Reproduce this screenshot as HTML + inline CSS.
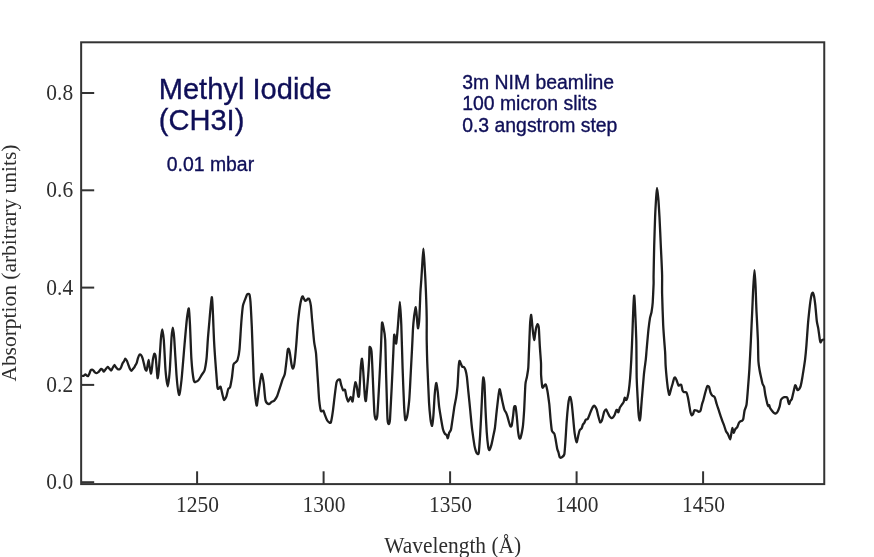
<!DOCTYPE html>
<html><head><meta charset="utf-8"><title>Methyl Iodide absorption</title>
<style>html,body{margin:0;padding:0;background:#fff}svg{display:block}.s{font-family:"Liberation Serif",serif;font-size:21.45px;fill:#2e2e2e}.a{font-family:"Liberation Sans",sans-serif;fill:#0f0f58;stroke:#0f0f58;stroke-width:0.35px}</style></head><body>
<svg width="874" height="557" viewBox="0 0 874 557">
<rect width="874" height="557" fill="#fff"/>
<rect x="81.15" y="42.3" width="743.1" height="441.8" fill="none" stroke="#333333" stroke-width="2"/>
<line x1="81.15" x2="94.2" y1="482.20" y2="482.20" stroke="#333333" stroke-width="2"/>
<line x1="81.15" x2="94.2" y1="384.90" y2="384.90" stroke="#333333" stroke-width="2"/>
<line x1="81.15" x2="94.2" y1="287.60" y2="287.60" stroke="#333333" stroke-width="2"/>
<line x1="81.15" x2="94.2" y1="190.30" y2="190.30" stroke="#333333" stroke-width="2"/>
<line x1="81.15" x2="94.2" y1="93.00" y2="93.00" stroke="#333333" stroke-width="2"/>
<line x1="197.1" x2="197.1" y1="471.3" y2="484.1" stroke="#333333" stroke-width="2"/>
<line x1="323.6" x2="323.6" y1="471.3" y2="484.1" stroke="#333333" stroke-width="2"/>
<line x1="450.1" x2="450.1" y1="471.3" y2="484.1" stroke="#333333" stroke-width="2"/>
<line x1="576.6" x2="576.6" y1="471.3" y2="484.1" stroke="#333333" stroke-width="2"/>
<line x1="703.1" x2="703.1" y1="471.3" y2="484.1" stroke="#333333" stroke-width="2"/>
<text class="s" transform="translate(73.1,489.2) scale(1,1.075)" text-anchor="end">0.0</text>
<text class="s" transform="translate(73.1,391.9) scale(1,1.075)" text-anchor="end">0.2</text>
<text class="s" transform="translate(73.1,294.6) scale(1,1.075)" text-anchor="end">0.4</text>
<text class="s" transform="translate(73.1,197.3) scale(1,1.075)" text-anchor="end">0.6</text>
<text class="s" transform="translate(73.1,100.0) scale(1,1.075)" text-anchor="end">0.8</text>
<text class="s" transform="translate(197.5,512) scale(1,1.075)" text-anchor="middle">1250</text>
<text class="s" transform="translate(324.0,512) scale(1,1.075)" text-anchor="middle">1300</text>
<text class="s" transform="translate(450.5,512) scale(1,1.075)" text-anchor="middle">1350</text>
<text class="s" transform="translate(577.0,512) scale(1,1.075)" text-anchor="middle">1400</text>
<text class="s" transform="translate(703.5,512) scale(1,1.075)" text-anchor="middle">1450</text>
<text class="s" transform="translate(452.7,552.6) scale(1,1.075)" text-anchor="middle">Wavelength (Å)</text>
<text class="s" transform="translate(16.1,263.1) rotate(-90) scale(1,1.02)" text-anchor="middle">Absorption (arbitrary units)</text>
<text class="a" font-size="29.1" x="158.7" y="98.8">Methyl Iodide</text>
<text class="a" font-size="29.1" x="158.7" y="130.3">(CH3I)</text>
<text class="a" font-size="19.4" x="166.8" y="171">0.01 mbar</text>
<text class="a" font-size="19.4" x="462.2" y="88.8">3m NIM beamline</text>
<text class="a" font-size="19.4" x="462.2" y="110.4">100 micron slits</text>
<text class="a" font-size="19.4" x="462.2" y="131.9">0.3 angstrom step</text>
<path d="M82.8,375.9C82.9,375.9 83.8,375.7 84.1,375.5C84.4,375.3 85.1,374.4 85.4,374.4C85.7,374.4 86.7,375.7 87.0,375.9C87.3,376.1 87.9,376.2 88.2,375.9C88.5,375.6 89.2,374.0 89.5,373.4C89.8,372.8 90.4,370.6 90.7,370.2C91.0,369.8 91.7,369.6 92.0,369.6C92.3,369.6 92.9,369.9 93.2,370.2C93.5,370.5 94.5,372.1 94.9,372.4C95.3,372.7 96.0,373.2 96.4,373.2C96.8,373.2 97.9,372.4 98.3,372.1C98.7,371.8 99.6,370.6 99.9,370.2C100.2,369.8 100.9,368.9 101.2,368.8C101.5,368.7 102.1,369.3 102.4,369.6C102.7,369.9 103.5,371.8 103.9,371.7C104.3,371.6 105.4,369.5 105.8,369.0C106.2,368.5 107.3,367.0 107.7,366.9C108.1,366.8 108.8,368.0 109.2,368.4C109.6,368.8 110.8,370.6 111.2,370.5C111.6,370.4 112.4,368.3 112.8,367.7C113.2,367.1 114.1,365.1 114.4,365.0C114.7,364.9 115.5,366.6 115.9,367.1C116.3,367.6 117.4,369.0 117.8,369.2C118.2,369.4 119.3,369.4 119.7,369.2C120.1,369.0 120.9,367.8 121.2,367.1C121.5,366.4 122.3,363.9 122.6,363.3C122.9,362.7 123.5,362.2 123.8,361.7C124.1,361.2 125.0,358.8 125.3,358.7C125.6,358.6 126.5,360.1 126.9,360.8C127.3,361.5 128.2,364.3 128.5,365.2C128.8,366.1 129.7,368.4 130.0,369.0C130.3,369.6 131.1,370.8 131.4,370.8C131.7,370.8 132.6,369.4 132.9,369.0C133.2,368.6 133.9,367.9 134.2,367.5C134.5,367.1 135.1,365.7 135.4,365.2C135.7,364.7 136.4,363.7 136.7,362.9C137.0,362.1 137.6,359.2 137.9,358.3C138.2,357.4 139.2,354.9 139.6,354.5C140.0,354.1 140.8,354.7 141.1,355.1C141.4,355.5 142.3,357.3 142.6,358.3C142.9,359.3 143.7,362.7 144.0,363.9C144.3,365.1 144.9,368.3 145.2,369.0C145.5,369.7 146.2,370.8 146.4,370.5C146.6,370.2 147.2,367.7 147.4,366.5C147.6,365.3 148.4,359.9 148.6,359.9C148.8,359.9 149.3,365.0 149.6,366.5C149.9,368.0 150.6,373.5 150.9,373.6C151.2,373.7 151.8,369.3 152.0,367.7C152.2,366.1 152.7,360.4 153.0,358.9C153.3,357.4 154.0,354.1 154.3,353.8C154.6,353.5 155.2,354.3 155.5,355.8C155.8,357.3 156.4,365.2 156.6,367.7C156.8,370.2 157.4,378.6 157.7,378.3C158.0,378.0 158.9,369.3 159.2,365.0C159.5,360.7 160.5,344.0 160.8,340.0C161.1,336.0 162.0,329.3 162.3,329.3C162.6,329.3 163.4,335.5 163.8,340.0C164.2,344.5 165.1,364.8 165.5,370.0C165.9,375.2 167.3,386.4 167.8,386.4C168.3,386.4 169.4,375.4 169.8,370.0C170.2,364.6 171.2,342.7 171.5,338.0C171.8,333.3 172.5,327.6 172.8,327.6C173.1,327.6 173.8,332.7 174.2,338.0C174.6,343.3 176.0,368.7 176.5,375.0C177.0,381.3 178.5,394.3 179.1,394.9C179.7,395.5 180.9,385.5 181.5,380.0C182.1,374.5 183.9,351.9 184.5,345.0C185.1,338.1 186.5,322.1 187.0,318.0C187.5,313.9 188.5,307.7 188.8,308.5C189.1,309.3 189.7,319.4 190.0,325.0C190.3,330.6 191.0,352.7 191.4,358.9C191.8,365.1 193.3,378.1 193.8,380.6C194.3,383.1 195.5,381.8 196.1,381.7C196.7,381.6 198.3,380.4 198.9,379.6C199.5,378.8 201.1,375.9 201.7,374.9C202.3,373.9 204.1,372.0 204.6,370.2C205.1,368.4 206.1,362.3 206.5,358.9C206.9,355.5 207.5,344.3 207.8,340.0C208.1,335.7 209.1,324.8 209.5,320.0C209.9,315.2 211.4,297.8 211.8,297.2C212.2,296.6 212.8,310.2 213.0,315.0C213.2,319.8 213.7,334.1 214.0,340.0C214.3,345.9 215.5,363.1 215.9,368.3C216.3,373.5 217.1,384.9 217.4,387.2C217.7,389.5 218.3,388.8 218.7,388.7C219.1,388.6 220.2,386.0 220.6,386.7C221.0,387.4 222.1,393.2 222.5,394.7C222.9,396.2 223.6,399.8 224.0,400.0C224.4,400.2 225.8,397.8 226.3,396.6C226.8,395.4 227.8,390.1 228.2,389.1C228.6,388.1 229.7,388.5 230.1,387.2C230.5,385.9 231.5,380.3 231.9,377.8C232.3,375.3 233.1,366.2 233.5,364.5C233.9,362.8 235.2,362.8 235.7,362.3C236.2,361.8 237.2,361.2 237.6,359.8C238.0,358.4 239.1,353.7 239.5,349.4C239.9,345.1 241.0,325.8 241.4,321.0C241.8,316.2 242.5,308.2 242.9,305.9C243.3,303.6 244.3,301.5 244.8,300.2C245.3,298.9 246.6,295.0 247.1,294.4C247.6,293.8 249.0,293.5 249.4,294.4C249.8,295.3 250.2,298.5 250.5,302.1C250.8,305.7 251.4,318.2 251.8,326.6C252.2,335.0 253.3,369.8 253.7,377.8C254.1,385.8 255.1,395.4 255.5,398.5C255.9,401.6 256.5,406.6 256.9,405.3C257.3,404.0 258.8,390.7 259.3,387.2C259.8,383.7 261.1,374.4 261.6,374.0C262.1,373.6 263.3,380.5 263.7,383.4C264.1,386.3 264.9,398.1 265.5,400.4C266.1,402.7 268.1,404.0 268.8,404.2C269.5,404.4 271.0,402.3 271.6,401.9C272.2,401.5 273.8,401.1 274.4,400.4C275.0,399.7 276.7,397.2 277.3,395.7C277.9,394.2 279.5,389.0 280.1,387.2C280.7,385.4 282.0,381.1 282.5,379.6C283.0,378.1 284.3,376.3 284.8,374.0C285.3,371.7 286.4,361.5 286.7,358.9C287.0,356.3 287.5,351.3 287.7,350.2C287.9,349.1 288.4,348.4 288.6,348.7C288.8,349.0 289.6,351.4 289.9,353.1C290.2,354.8 291.2,362.7 291.5,364.4C291.8,366.1 292.5,368.7 292.8,368.7C293.1,368.7 293.9,367.0 294.3,364.4C294.7,361.8 295.8,350.3 296.2,345.5C296.6,340.7 297.6,325.6 298.1,321.0C298.6,316.4 299.8,306.7 300.3,304.0C300.8,301.3 302.0,297.1 302.4,296.5C302.8,295.9 303.4,297.8 303.7,298.3C304.0,298.8 304.9,300.5 305.2,300.7C305.5,300.9 306.3,300.4 306.6,300.2C306.9,300.0 307.6,298.8 307.9,298.7C308.2,298.6 309.1,298.5 309.4,299.3C309.7,300.1 310.6,303.5 310.9,305.9C311.2,308.3 311.8,317.0 312.2,321.0C312.6,325.0 313.7,338.1 314.1,341.7C314.5,345.3 315.6,349.1 316.0,353.1C316.4,357.1 317.3,372.5 317.7,377.8C318.1,383.1 318.8,396.7 319.2,400.4C319.6,404.1 320.4,409.9 320.9,411.0C321.4,412.1 322.9,410.2 323.3,410.6C323.7,411.0 324.4,413.5 324.8,414.6C325.2,415.7 326.6,419.3 327.1,420.2C327.6,421.1 328.6,422.1 329.0,422.3C329.4,422.5 330.5,423.5 330.9,422.3C331.3,421.1 332.4,414.6 332.8,411.7C333.2,408.8 334.2,399.8 334.6,396.6C335.0,393.4 336.1,384.4 336.5,382.5C336.9,380.6 338.0,380.0 338.4,379.7C338.8,379.4 339.6,379.0 339.9,379.6C340.2,380.2 340.9,384.1 341.3,385.3C341.7,386.5 342.7,389.7 343.1,390.2C343.5,390.7 344.6,389.2 345.0,389.9C345.4,390.6 346.0,395.3 346.4,396.6C346.8,397.9 347.7,401.5 348.2,401.5C348.7,401.5 350.2,397.0 350.7,397.0C351.2,397.0 352.2,402.2 352.6,401.5C353.0,400.8 353.6,393.1 353.9,391.0C354.2,388.9 355.1,382.7 355.4,382.3C355.7,381.9 356.6,385.7 356.9,387.2C357.2,388.7 357.9,395.4 358.2,396.2C358.5,397.0 358.9,397.8 359.2,394.7C359.5,391.6 360.4,372.3 360.7,368.3C361.0,364.3 361.7,358.3 362.0,358.7C362.3,359.1 363.0,367.9 363.3,372.1C363.6,376.3 364.6,393.4 364.9,396.6C365.2,399.8 365.7,402.3 366.0,400.6C366.3,398.9 367.3,386.1 367.7,381.5C368.1,376.9 369.0,362.7 369.2,358.9C369.4,355.1 369.3,347.9 369.6,347.1C369.9,346.3 371.1,347.9 371.5,351.3C371.9,354.7 372.5,371.1 372.8,377.8C373.1,384.5 374.0,407.1 374.3,411.7C374.6,416.3 375.5,419.0 375.8,419.4C376.1,419.8 376.9,419.1 377.3,415.5C377.7,411.9 378.6,394.5 379.0,387.2C379.4,379.9 380.6,356.5 380.9,349.4C381.2,342.3 381.7,325.3 382.0,323.0C382.3,320.7 383.3,326.6 383.7,328.5C384.1,330.4 384.9,334.5 385.2,340.0C385.5,345.5 385.9,369.0 386.2,377.8C386.5,386.6 387.2,414.1 387.5,419.3C387.8,424.5 388.3,424.2 388.6,424.2C388.9,424.2 389.7,423.4 390.0,419.3C390.3,415.2 391.3,394.3 391.7,387.2C392.1,380.1 392.9,360.9 393.2,355.1C393.5,349.3 393.9,336.0 394.2,334.7C394.5,333.4 395.8,344.5 396.2,343.4C396.6,342.3 397.6,329.6 398.0,325.0C398.4,320.4 399.5,301.9 399.9,301.9C400.3,301.9 401.0,317.6 401.3,325.0C401.6,332.4 402.3,359.3 402.6,368.3C402.9,377.3 403.8,400.4 404.1,406.1C404.4,411.8 405.0,419.0 405.4,420.0C405.8,421.0 406.9,417.7 407.3,415.5C407.7,413.3 408.8,404.6 409.2,400.4C409.6,396.2 410.2,383.5 410.5,377.8C410.8,372.1 411.7,354.7 412.0,349.4C412.3,344.1 412.7,334.0 412.9,330.3C413.1,326.6 413.8,319.1 414.1,316.5C414.4,313.9 415.5,307.1 415.8,307.2C416.1,307.3 416.7,315.5 416.9,317.8C417.1,320.1 417.6,328.0 417.9,328.3C418.2,328.6 418.9,324.3 419.2,320.3C419.5,316.3 420.2,297.1 420.4,292.6C420.6,288.1 421.1,283.4 421.3,280.0C421.5,276.6 422.2,265.5 422.4,262.0C422.6,258.5 423.2,248.7 423.4,248.7C423.6,248.7 424.2,258.5 424.4,262.0C424.6,265.5 425.1,273.8 425.4,280.0C425.7,286.2 426.6,311.1 426.7,317.8C426.8,324.5 426.6,334.4 426.7,340.0C426.8,345.6 427.2,361.4 427.5,368.3C427.8,375.2 428.7,396.6 429.0,402.3C429.3,408.0 430.2,416.7 430.5,419.3C430.8,421.9 431.8,426.3 432.1,425.9C432.4,425.5 433.1,419.0 433.4,415.5C433.7,412.0 434.4,398.3 434.7,394.7C435.0,391.1 435.9,383.3 436.2,383.0C436.5,382.7 437.5,389.4 437.8,392.1C438.1,394.8 438.8,404.3 439.2,407.2C439.6,410.1 440.6,416.1 441.0,418.5C441.4,420.9 442.5,427.2 442.9,428.9C443.3,430.6 444.4,432.9 444.8,433.6C445.2,434.3 446.4,434.6 446.7,435.1C447.0,435.6 447.5,438.6 447.8,438.3C448.1,438.0 448.9,433.6 449.2,432.7C449.5,431.8 450.5,431.3 450.9,429.9C451.3,428.5 452.0,422.9 452.4,420.4C452.8,417.9 453.9,409.7 454.3,407.2C454.7,404.7 455.7,400.1 456.1,397.8C456.5,395.5 457.2,389.8 457.5,386.4C457.8,383.0 458.4,370.4 458.6,367.6C458.8,364.8 459.2,361.3 459.5,360.9C459.8,360.5 460.6,363.2 460.9,363.8C461.2,364.4 461.8,366.2 462.2,366.6C462.6,367.0 463.7,366.8 464.1,367.2C464.5,367.6 465.3,369.3 465.6,370.4C465.9,371.5 466.6,374.6 466.9,377.0C467.2,379.4 468.0,388.3 468.4,392.1C468.8,395.9 469.9,406.8 470.3,411.0C470.7,415.2 471.7,426.0 472.2,429.9C472.7,433.8 474.1,443.5 474.5,445.9C474.9,448.3 475.7,450.7 476.0,451.6C476.3,452.5 477.2,453.9 477.5,454.0C477.8,454.1 478.5,454.6 478.8,452.5C479.1,450.4 479.8,439.9 480.1,435.5C480.4,431.1 481.0,418.1 481.3,412.9C481.6,407.7 482.2,392.2 482.4,388.3C482.6,384.4 483.1,377.8 483.3,377.4C483.5,377.0 484.3,381.2 484.5,384.5C484.7,387.8 485.2,402.0 485.4,407.2C485.6,412.4 486.4,427.3 486.7,431.7C487.0,436.1 487.9,444.7 488.2,446.8C488.5,448.9 489.1,450.3 489.4,450.2C489.7,450.1 490.7,447.3 491.1,445.9C491.5,444.5 492.6,439.4 493.0,437.4C493.4,435.4 494.5,430.9 494.9,428.0C495.3,425.1 496.3,414.4 496.7,411.0C497.1,407.6 497.9,400.2 498.2,397.8C498.5,395.4 499.3,389.7 499.6,389.3C499.9,388.9 500.6,392.6 500.9,394.0C501.2,395.4 502.0,399.8 502.4,401.5C502.8,403.2 503.9,408.2 504.3,409.5C504.7,410.8 505.8,412.1 506.2,412.9C506.6,413.7 507.2,415.6 507.5,416.6C507.8,417.6 508.7,421.2 509.0,422.3C509.3,423.4 510.2,426.2 510.5,426.5C510.8,426.8 511.5,426.2 511.8,425.1C512.1,424.0 512.7,418.6 513.0,416.6C513.3,414.6 513.8,408.3 514.1,407.2C514.4,406.1 515.3,405.8 515.6,406.8C515.9,407.8 516.5,413.8 516.8,416.6C517.1,419.4 517.8,429.3 518.1,431.7C518.4,434.1 519.1,437.7 519.4,438.3C519.7,438.9 520.3,438.7 520.7,437.4C521.1,436.1 522.4,429.9 522.8,427.0C523.2,424.1 523.8,415.7 524.1,411.0C524.4,406.3 525.1,388.3 525.4,384.5C525.7,380.7 526.6,378.9 526.9,377.0C527.2,375.1 528.1,370.6 528.3,367.6C528.5,364.6 528.8,355.0 529.0,350.3C529.2,345.6 529.8,329.1 530.0,325.2C530.2,321.3 530.9,314.6 531.2,314.9C531.5,315.2 532.2,324.9 532.5,327.7C532.8,330.5 533.7,340.0 534.1,340.1C534.5,340.2 535.5,330.7 535.9,328.9C536.3,327.1 537.3,324.2 537.6,324.1C537.9,324.0 538.6,325.5 538.8,327.7C539.0,329.9 539.5,340.2 539.7,344.1C539.9,348.0 540.8,359.5 541.0,362.9C541.2,366.3 540.9,372.4 541.1,375.1C541.3,377.8 542.0,386.3 542.4,387.5C542.8,388.7 543.9,385.8 544.3,385.5C544.7,385.2 545.5,384.1 545.8,384.6C546.1,385.1 546.9,388.1 547.3,390.2C547.7,392.3 548.8,400.3 549.2,403.4C549.6,406.5 550.2,415.5 550.5,418.5C550.8,421.5 551.5,429.1 551.9,430.8C552.3,432.5 553.9,432.7 554.3,433.6C554.7,434.5 555.3,437.6 555.6,439.3C555.9,441.0 556.9,447.2 557.2,448.7C557.5,450.2 558.2,451.5 558.5,452.5C558.8,453.5 559.4,456.9 559.8,457.4C560.2,457.9 561.4,457.5 561.9,457.2C562.4,456.9 563.9,456.0 564.3,454.4C564.7,452.8 565.0,446.7 565.3,443.1C565.6,439.5 566.3,426.5 566.6,422.3C566.9,418.1 567.8,408.0 568.1,405.3C568.4,402.6 569.1,398.7 569.4,397.8C569.7,396.9 570.1,396.6 570.4,397.2C570.7,397.8 571.4,401.0 571.7,403.4C572.0,405.8 572.9,415.1 573.2,418.5C573.5,421.9 574.3,431.0 574.7,433.6C575.1,436.2 576.2,442.1 576.6,442.3C577.0,442.5 578.1,436.3 578.4,435.0C578.7,433.7 579.3,430.9 579.7,430.2C580.1,429.5 581.2,428.9 581.6,428.3C582.0,427.7 582.6,425.2 582.9,424.6C583.2,424.0 584.1,423.3 584.4,422.7C584.7,422.1 585.5,419.9 585.9,419.5C586.3,419.1 587.4,419.5 587.8,418.9C588.2,418.3 589.3,415.2 589.7,414.2C590.1,413.2 591.2,410.4 591.6,409.5C592.0,408.6 593.1,406.5 593.5,406.1C593.9,405.7 594.4,405.7 594.8,406.1C595.2,406.5 596.3,408.5 596.7,409.5C597.1,410.5 597.6,413.7 598.0,415.1C598.4,416.5 599.7,421.7 600.1,422.3C600.5,422.9 601.4,421.6 601.8,420.8C602.2,420.0 603.0,416.1 603.3,415.1C603.6,414.1 604.0,412.0 604.3,411.4C604.6,410.8 605.7,409.2 606.1,409.3C606.5,409.4 607.1,411.5 607.5,412.3C607.9,413.1 609.0,415.5 609.4,416.1C609.8,416.7 610.8,417.7 611.2,417.9C611.6,418.1 612.4,417.9 612.8,417.6C613.2,417.3 614.2,415.9 614.6,415.1C615.0,414.3 615.9,411.0 616.2,410.4C616.5,409.8 616.9,409.7 617.1,409.9C617.3,410.1 618.1,412.6 618.4,412.3C618.7,412.0 619.5,408.4 619.9,407.6C620.3,406.8 621.4,405.3 621.8,404.7C622.2,404.1 623.4,402.7 623.7,401.9C624.0,401.1 624.4,397.8 624.7,397.6C625.0,397.4 625.7,400.2 626.0,400.2C626.3,400.2 627.2,398.3 627.5,397.2C627.8,396.1 628.5,392.7 628.8,390.6C629.1,388.5 629.8,381.8 630.1,378.3C630.4,374.8 631.0,364.6 631.3,359.4C631.6,354.2 632.3,337.0 632.5,331.1C632.7,325.2 633.2,310.4 633.4,306.5C633.6,302.6 634.0,294.8 634.2,295.6C634.4,296.4 635.1,309.1 635.3,314.1C635.5,319.1 636.1,333.4 636.3,340.5C636.5,347.6 636.5,371.4 636.7,378.3C636.9,385.2 637.7,398.7 637.9,402.9C638.1,407.1 638.6,414.2 638.8,416.1C639.0,418.0 639.6,420.6 639.8,420.4C640.0,420.2 640.5,416.8 640.7,414.2C640.9,411.6 641.6,401.6 642.0,397.2C642.4,392.8 643.5,378.7 643.9,374.5C644.3,370.3 645.5,362.1 645.8,359.4C646.1,356.7 646.3,353.4 646.6,350.0C646.9,346.6 648.1,332.8 648.5,329.2C648.9,325.6 649.7,319.8 650.0,317.9C650.3,316.0 651.2,313.9 651.5,312.2C651.8,310.5 652.5,305.9 652.7,302.8C652.9,299.7 653.5,287.0 653.6,283.9C653.7,280.8 653.5,279.3 653.6,275.0C653.7,270.7 654.0,251.9 654.2,245.5C654.4,239.1 654.9,222.4 655.1,217.2C655.3,212.0 655.9,201.6 656.1,198.3C656.3,195.0 656.8,187.8 657.0,187.8C657.2,187.8 658.0,195.0 658.3,198.3C658.6,201.6 659.2,212.0 659.5,217.2C659.8,222.4 660.5,239.1 660.8,245.5C661.1,251.9 662.0,269.7 662.1,275.0C662.2,280.3 662.0,287.7 662.1,293.3C662.2,298.9 662.9,318.9 663.2,325.4C663.5,331.9 664.8,347.4 665.1,351.8C665.4,356.2 665.4,361.7 665.6,365.1C665.8,368.5 666.8,379.2 667.1,382.1C667.4,385.0 668.1,390.1 668.4,391.5C668.7,392.9 669.1,395.1 669.4,394.9C669.7,394.7 670.5,390.9 670.9,389.6C671.3,388.3 672.4,384.3 672.8,383.0C673.2,381.7 673.8,378.9 674.1,378.3C674.4,377.7 674.8,377.2 675.1,377.4C675.4,377.6 676.2,379.3 676.6,380.2C677.0,381.1 678.1,385.0 678.5,385.5C678.9,386.0 679.5,384.9 679.8,384.8C680.1,384.7 681.0,384.3 681.3,384.9C681.6,385.5 682.3,389.8 682.6,390.6C682.9,391.4 683.7,391.9 684.1,392.1C684.5,392.3 686.0,391.7 686.4,392.3C686.8,392.9 687.6,395.8 687.9,397.2C688.2,398.6 688.9,403.0 689.2,404.7C689.5,406.4 690.2,411.1 690.5,412.3C690.8,413.5 691.4,415.1 691.7,415.3C692.0,415.5 692.7,414.7 693.0,414.2C693.3,413.7 694.0,410.8 694.3,410.4C694.6,410.0 695.5,410.4 695.8,410.4C696.1,410.4 697.0,410.6 697.3,410.8C697.6,411.0 698.3,411.9 698.7,411.9C699.1,411.9 700.1,411.6 700.5,410.8C700.9,410.0 701.6,405.9 701.9,404.7C702.2,403.5 703.0,401.4 703.4,400.0C703.8,398.6 704.9,394.0 705.3,392.5C705.7,391.0 706.8,386.9 707.2,386.3C707.6,385.7 708.6,386.1 709.0,386.8C709.4,387.5 710.1,391.5 710.5,392.5C710.9,393.5 711.9,395.2 712.4,395.7C712.9,396.2 714.2,396.3 714.7,397.2C715.2,398.1 716.1,402.1 716.6,403.8C717.1,405.5 718.8,410.4 719.4,412.3C720.0,414.2 721.8,419.3 722.3,420.8C722.8,422.3 723.7,424.3 724.1,425.5C724.5,426.7 725.6,430.3 726.0,431.2C726.4,432.1 727.4,433.1 727.9,434.0C728.4,434.9 729.8,439.4 730.2,439.3C730.6,439.2 731.2,434.4 731.4,433.1C731.6,431.8 732.1,427.8 732.4,427.8C732.7,427.8 733.4,432.5 733.7,432.7C734.0,432.9 734.8,429.9 735.2,429.3C735.6,428.7 736.7,428.1 737.1,427.4C737.5,426.7 738.6,423.4 739.0,422.7C739.4,422.0 740.2,421.4 740.5,421.2C740.8,421.0 741.5,421.3 741.8,421.0C742.1,420.7 743.0,420.1 743.3,418.9C743.6,417.7 744.2,412.0 744.6,410.4C745.0,408.8 746.1,407.2 746.5,404.7C746.9,402.2 747.7,391.8 748.0,387.8C748.3,383.8 749.1,374.2 749.4,368.9C749.7,363.6 750.6,346.4 750.9,340.0C751.2,333.6 751.9,317.5 752.2,311.6C752.5,305.7 753.0,291.7 753.3,287.1C753.6,282.5 754.2,270.1 754.5,270.1C754.8,270.1 755.4,282.5 755.6,287.1C755.8,291.7 756.2,305.7 756.5,311.6C756.8,317.5 757.7,334.5 757.9,340.0C758.1,345.5 758.2,357.9 758.4,361.3C758.6,364.7 759.4,368.9 759.7,370.8C760.0,372.7 761.0,376.8 761.3,378.3C761.6,379.8 762.3,383.1 762.6,384.0C762.9,384.9 763.8,385.5 764.1,386.8C764.4,388.1 765.0,393.4 765.4,395.3C765.8,397.2 767.0,402.6 767.3,403.8C767.6,405.0 768.0,406.1 768.2,406.2C768.4,406.3 769.0,404.9 769.2,405.1C769.4,405.3 769.8,407.5 770.1,408.1C770.4,408.7 771.6,410.3 772.0,410.8C772.4,411.3 773.5,412.6 773.9,412.9C774.3,413.2 775.4,413.6 775.8,413.4C776.2,413.2 777.3,412.2 777.7,411.4C778.1,410.6 779.2,407.9 779.6,406.6C780.0,405.3 780.6,400.9 780.9,400.0C781.2,399.1 782.0,398.4 782.4,398.1C782.8,397.8 783.9,397.3 784.3,397.2C784.7,397.1 785.8,397.1 786.2,397.2C786.6,397.3 787.3,397.6 787.5,398.1C787.7,398.6 788.1,401.2 788.3,401.9C788.5,402.6 789.0,404.1 789.2,404.0C789.4,403.9 790.0,401.5 790.3,401.0C790.6,400.5 791.5,400.0 791.8,399.1C792.1,398.2 793.0,394.0 793.4,392.5C793.8,391.0 794.8,385.8 795.2,385.3C795.6,384.8 796.3,387.3 796.6,387.8C796.9,388.3 797.2,390.1 797.5,390.2C797.8,390.3 799.0,389.2 799.4,388.7C799.8,388.2 800.4,387.1 800.7,385.9C801.0,384.7 801.9,380.2 802.2,378.3C802.5,376.4 803.4,371.0 803.7,368.9C804.0,366.8 804.8,362.0 805.1,359.4C805.4,356.8 806.1,349.4 806.4,345.6C806.7,341.8 807.6,328.9 807.9,324.9C808.2,320.9 809.1,312.5 809.4,309.7C809.7,306.9 810.4,301.2 810.7,299.4C811.0,297.6 811.6,294.4 811.9,293.7C812.2,293.0 812.8,292.5 813.0,292.8C813.2,293.1 813.8,295.0 814.1,296.5C814.4,298.0 815.1,303.3 815.4,306.0C815.7,308.7 816.5,318.6 816.8,321.1C817.1,323.6 818.0,326.7 818.3,328.6C818.6,330.5 819.4,336.6 819.6,338.1C819.8,339.6 820.2,342.2 820.5,342.4C820.8,342.6 821.7,340.3 822.0,340.0C822.3,339.7 823.4,339.6 823.6,339.6" fill="none" stroke="#1e1e1e" stroke-width="2.3" stroke-linejoin="round" stroke-linecap="round"/>
</svg></body></html>
